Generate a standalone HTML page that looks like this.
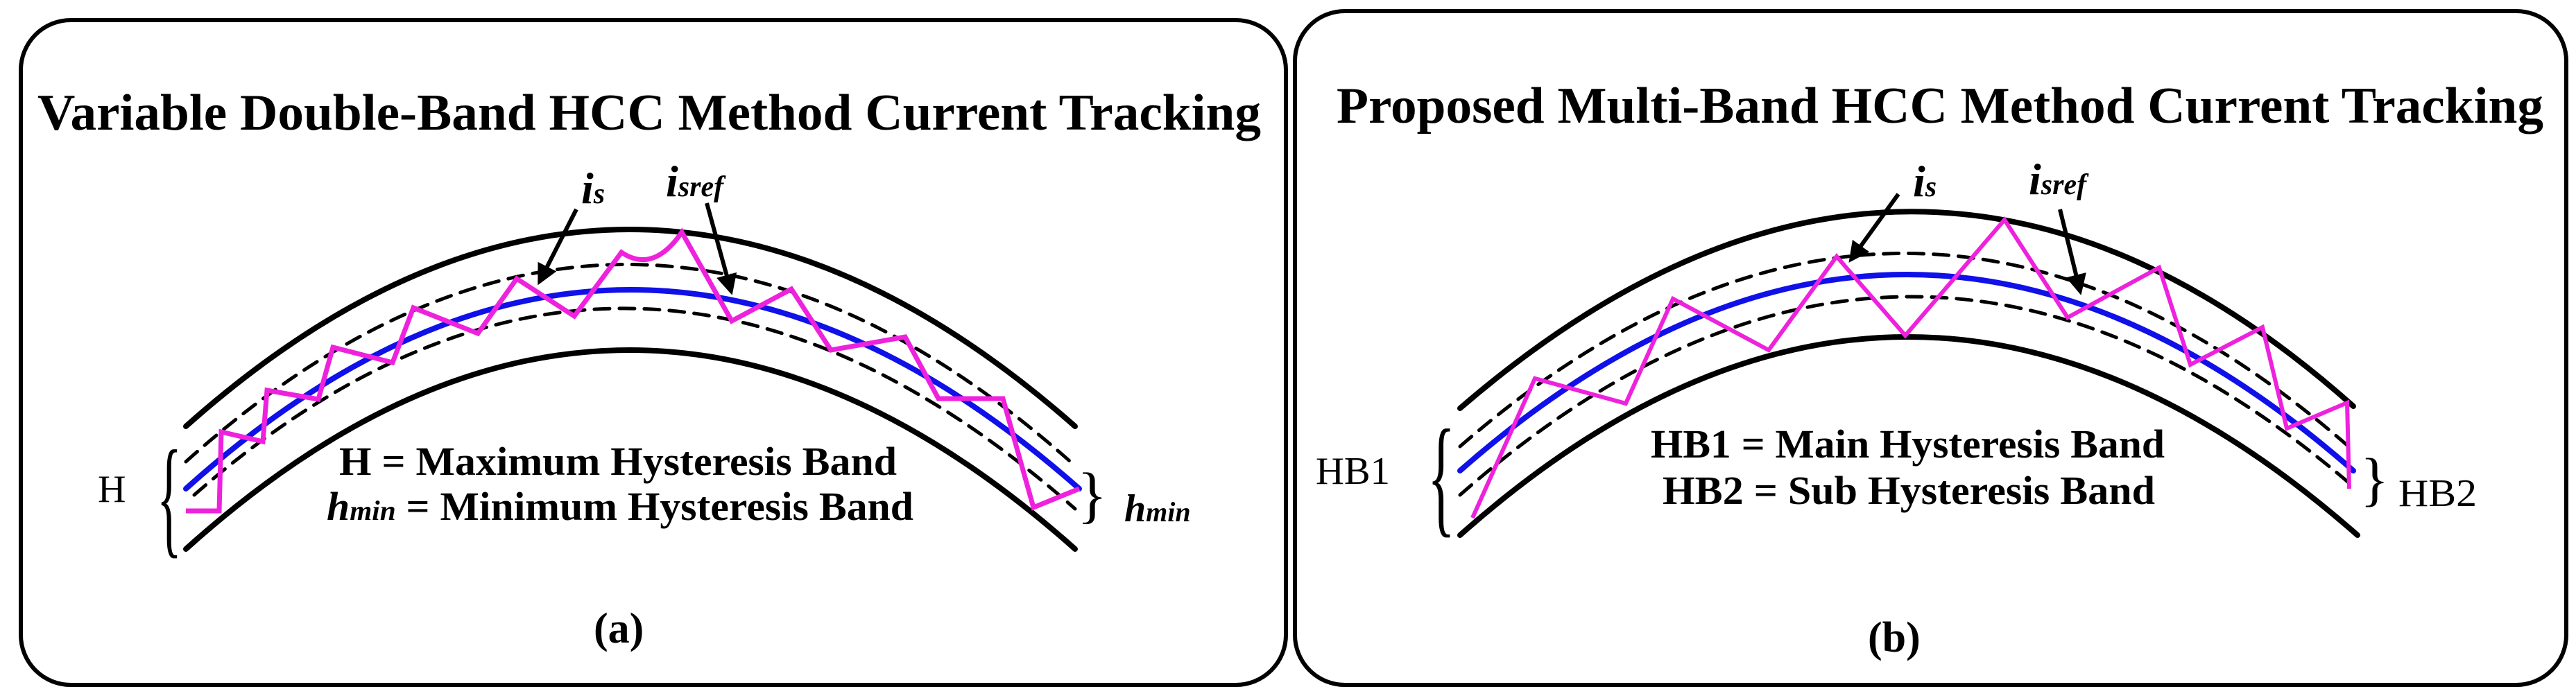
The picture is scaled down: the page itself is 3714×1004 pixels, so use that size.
<!DOCTYPE html>
<html><head><meta charset="utf-8"><style>html,body{margin:0;padding:0;background:#fff}svg{display:block}</style></head>
<body>
<svg width="3714" height="1004" viewBox="0 0 3714 1004" xmlns="http://www.w3.org/2000/svg" font-family="'Liberation Serif', serif" font-weight="bold">
<defs><marker id="ah" viewBox="0 0 10 10" refX="8" refY="5" markerWidth="5" markerHeight="5" orient="auto"><path d="M0,0 L10,5 L0,10 z" fill="#000"/></marker></defs>
<rect x="30" y="29" width="1824" height="959" rx="72" fill="none" stroke="#000" stroke-width="6"/>
<rect x="1867" y="16" width="1833" height="972" rx="72" fill="none" stroke="#000" stroke-width="6"/>

<text x="54" y="187" font-size="74" textLength="1764" lengthAdjust="spacingAndGlyphs">Variable Double-Band HCC Method Current Tracking</text>
<text x="1927" y="177" font-size="74" textLength="1740" lengthAdjust="spacingAndGlyphs">Proposed Multi-Band HCC Method Current Tracking</text>

<!-- left curves -->
<g fill="none" stroke-linecap="round">
<path d="M268,615 Q906,47 1550,615" stroke="#000" stroke-width="8"/>
<path d="M268,792 Q906,218 1550,792" stroke="#000" stroke-width="8"/>
<path d="M268,666 Q906,94 1550,672" stroke="#000" stroke-width="5" stroke-dasharray="22,14"/>
<path d="M280,714 Q906,166 1550,734" stroke="#000" stroke-width="5" stroke-dasharray="22,14"/>
<path d="M268,705 Q906,131 1556,705" stroke="#1010e8" stroke-width="8"/>
<path d="M268,737 L316,737 L319,623 L379,637 L385,563 L459,576 L480,501 L566,523 L596,444 L689,481 L745,402 L828,456 L896,364 Q942,395 983,335 L1055,463 L1141,417 L1198,505 L1305,486 L1353,575 L1446,575 L1490,732 L1556,705" stroke="#ee22dd" stroke-width="7" stroke-linejoin="miter" stroke-linecap="butt"/>
</g>
<line x1="831" y1="302" x2="778" y2="406" stroke="#000" stroke-width="6" marker-end="url(#ah)"/>
<line x1="1019" y1="293" x2="1054" y2="420" stroke="#000" stroke-width="6" marker-end="url(#ah)"/>
<text x="838" y="293" font-size="64" font-style="italic">i<tspan font-size="42">s</tspan></text>
<text x="960" y="283" font-size="64" font-style="italic">i<tspan font-size="42">sref</tspan></text>
<text x="141" y="724" font-size="56" font-weight="normal">H</text>
<text x="226" y="780" font-size="190" font-weight="normal" transform="translate(0,0)" textLength="36" lengthAdjust="spacingAndGlyphs">{</text>
<text x="489" y="685" font-size="58" textLength="804" lengthAdjust="spacingAndGlyphs">H = Maximum Hysteresis Band</text>
<text x="471" y="750" font-size="58" textLength="846" lengthAdjust="spacingAndGlyphs"><tspan font-style="italic">h<tspan font-size="40">min</tspan></tspan> = Minimum Hysteresis Band</text>
<text x="1553" y="744" font-size="90" font-weight="normal">}</text>
<text x="1621" y="752" font-size="56" font-style="italic">h<tspan font-size="40">min</tspan></text>
<text x="856" y="927" font-size="62">(a)</text>

<!-- right curves -->
<g fill="none" stroke-linecap="round">
<path d="M2105,589 Q2761,23 3393,586" stroke="#000" stroke-width="8"/>
<path d="M2105,772 Q2749,200 3399,772" stroke="#000" stroke-width="8"/>
<path d="M2105,644 Q2749,84 3393,650" stroke="#000" stroke-width="5" stroke-dasharray="22,14"/>
<path d="M2105,714 Q2749,148 3393,702" stroke="#000" stroke-width="5" stroke-dasharray="22,14"/>
<path d="M2105,679 Q2749,113 3393,679" stroke="#1010e8" stroke-width="8"/>
<path d="M2123,747 L2213,546 L2344,582 L2412,431 L2550,505 L2648,370 L2747,484 L2890,317 L2981,458 L3113,386 L3158,526 L3262,472 L3297,618 L3384,581 L3387,705" stroke="#ee22dd" stroke-width="6" stroke-linejoin="miter" stroke-linecap="butt"/>
</g>
<line x1="2737" y1="280" x2="2669" y2="374" stroke="#000" stroke-width="6" marker-end="url(#ah)"/>
<line x1="2970" y1="302" x2="2999" y2="420" stroke="#000" stroke-width="6" marker-end="url(#ah)"/>
<text x="2758" y="283" font-size="64" font-style="italic">i<tspan font-size="42">s</tspan></text>
<text x="2925" y="280" font-size="64" font-style="italic">i<tspan font-size="42">sref</tspan></text>
<text x="1897" y="698" font-size="56" font-weight="normal" textLength="107" lengthAdjust="spacingAndGlyphs">HB1</text>
<text x="2058" y="750" font-size="190" font-weight="normal" textLength="40" lengthAdjust="spacingAndGlyphs">{</text>
<text x="2380" y="660" font-size="58" textLength="741" lengthAdjust="spacingAndGlyphs">HB1 = Main Hysteresis Band</text>
<text x="2397" y="727" font-size="58" textLength="710" lengthAdjust="spacingAndGlyphs">HB2 = Sub Hysteresis Band</text>
<text x="3403" y="720" font-size="86" font-weight="normal">}</text>
<text x="3458" y="730" font-size="56" font-weight="normal" textLength="113" lengthAdjust="spacingAndGlyphs">HB2</text>
<text x="2693" y="940" font-size="62">(b)</text>
</svg>
</body></html>
